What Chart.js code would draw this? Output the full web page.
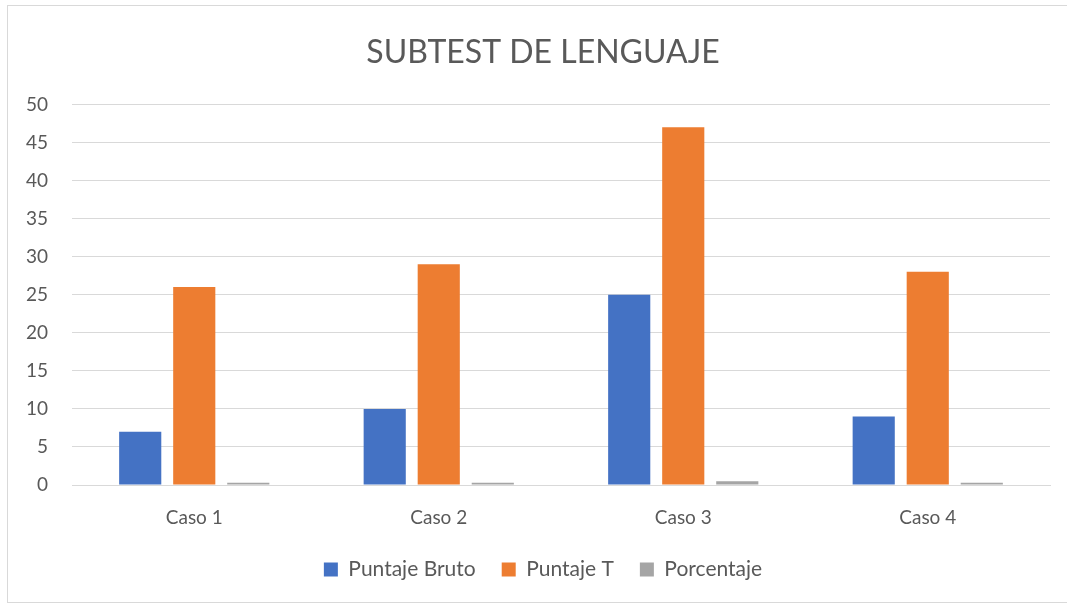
<!DOCTYPE html>
<html>
<head>
<meta charset="utf-8">
<script src="https://cdn.jsdelivr.net/npm/chart.js@4/dist/chart.umd.min.js"></script>
<style>
  body { margin: 0; background: #fff; overflow: hidden; }
  #frame { position: absolute; left: 7px; top: 5px; width: 1080px; height: 596px; border: 1px solid #d9d9d9; }
  /* the original chart is cut off on the right, so the canvas is wider than the window */
  #wrap { position: absolute; left: 0; top: 0; width: 1086px; height: 605px; }
</style>
</head>
<body>
<div id="frame"></div>
<div id="wrap"><canvas id="chart-lenguaje"></canvas></div>
<script>
// values
const categories = ['Caso 1', 'Caso 2', 'Caso 3', 'Caso 4'];
const puntajeBruto = [7, 10, 25, 9];
const puntajeT = [26, 29, 47, 28];
const porcentaje = [0.3, 0.3, 0.5, 0.3];

const textColor = '#595959';
const font = 'Lato, "Open Sans", sans-serif';

const config = {
  type: 'bar',
  data: {
    labels: categories,
    datasets: [
      { label: 'Puntaje Bruto', data: puntajeBruto, backgroundColor: '#4472C4' },
      { label: 'Puntaje T', data: puntajeT, backgroundColor: '#ED7D31' },
      { label: 'Porcentaje', data: porcentaje, backgroundColor: '#A5A5A5' },
    ],
  },
  options: {
    responsive: true,
    maintainAspectRatio: false,
    animation: false,
    datasets: {
      bar: { barPercentage: 0.78, categoryPercentage: 0.663 },
    },
    layout: { padding: { left: 0, right: 0, top: 0, bottom: 15 } },
    plugins: {
      title: {
        display: true,
        text: 'SUBTEST DE LENGUAJE',
        color: textColor,
        font: { family: font, size: 32, weight: 'normal' },
        padding: { top: 33, bottom: 33 },
      },
      legend: {
        position: 'bottom',
        labels: {
          color: textColor,
          font: { family: font, size: 21 },
          boxWidth: 14,
          boxHeight: 14,
          padding: 26,
        },
      },
      tooltip: { enabled: false },
    },
    scales: {
      x: {
        grid: { display: false, drawTicks: false },
        border: { display: true, color: '#d9d9d9' },
        ticks: { color: textColor, font: { family: font, size: 19 }, padding: 21 },
        afterFit(scale) { scale.height = 48; },
      },
      y: {
        min: 0,
        max: 50,
        grid: { color: '#d9d9d9', drawTicks: false },
        border: { display: false },
        ticks: { stepSize: 5, color: textColor, font: { family: font, size: 19 }, padding: 24 },
        afterFit(scale) { scale.width = 72; },
      },
      // empty right axis, only to leave the blank strip on the right of the plot
      yRight: {
        position: 'right',
        min: 0,
        max: 50,
        grid: { display: false, drawTicks: false },
        border: { display: false },
        ticks: { display: false },
        afterFit(scale) { scale.width = 36; },
      },
    },
  },
};

new Chart(document.getElementById('chart-lenguaje'), config);
</script>
</body>
</html>
